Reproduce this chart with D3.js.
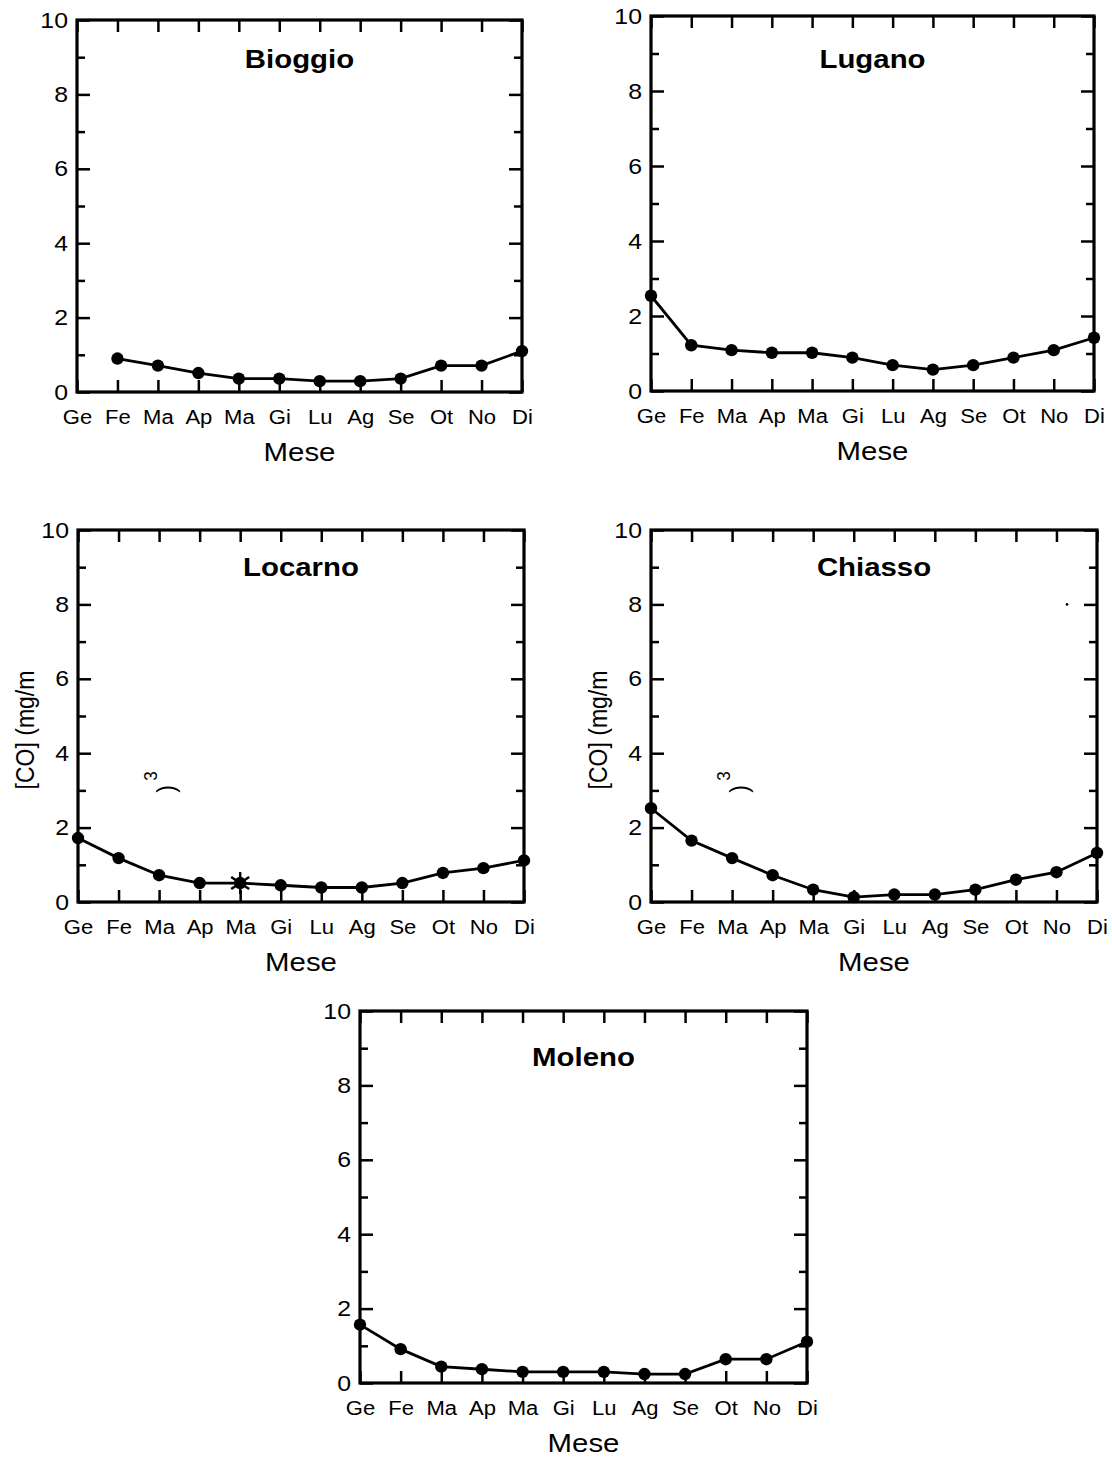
<!DOCTYPE html>
<html>
<head>
<meta charset="utf-8">
<script src="https://cdn.jsdelivr.net/npm/d3@7"></script>
<style>
  html, body { margin: 0; padding: 0; background: #fff; }
  svg { display: block; }
  text { font-family: "Liberation Sans", Arial, Helvetica, sans-serif; fill: #000; }
</style>
</head>
<body>
<svg id="chart" width="1112" height="1457"></svg>
<script>
// Monthly mean CO concentration (mg/m3) at five Ticino stations
const months = ["Ge", "Fe", "Ma", "Ap", "Ma", "Gi", "Lu", "Ag", "Se", "Ot", "No", "Di"];
const bioggio = [null, 0.90, 0.71, 0.51, 0.36, 0.36, 0.29, 0.29, 0.36, 0.71, 0.71, 1.10];
const lugano  = [2.54, 1.22, 1.09, 1.02, 1.02, 0.89, 0.69, 0.57, 0.69, 0.89, 1.09, 1.42];
const locarno = [1.72, 1.18, 0.72, 0.51, 0.51, 0.45, 0.39, 0.39, 0.51, 0.78, 0.91, 1.12];
const chiasso = [2.52, 1.65, 1.18, 0.72, 0.33, 0.13, 0.20, 0.20, 0.33, 0.60, 0.80, 1.32];
const moleno  = [1.57, 0.91, 0.44, 0.37, 0.30, 0.30, 0.30, 0.24, 0.24, 0.64, 0.64, 1.11];
const yMajorTicks = [0, 2, 4, 6, 8, 10];
const yMinorTicks = [1, 3, 5, 7, 9];
// Locarno: extra marker on the May value
const locarnoStarMonth = 4;

const STRETCH = 1.13; // glyphs are set slightly wide

const panels = [
  { name: "Bioggio", values: bioggio, x0: 77,  x1: 522,  y0: 20,   y1: 392, titleDy: 48, ylabel: false },
  { name: "Lugano",  values: lugano,  x0: 651, x1: 1094, y0: 16,   y1: 391, titleDy: 52, ylabel: false },
  { name: "Locarno", values: locarno, x0: 78,  x1: 524,  y0: 530,  y1: 902, titleDy: 46, ylabel: true, star: locarnoStarMonth },
  { name: "Chiasso", values: chiasso, x0: 651, x1: 1097, y0: 530,  y1: 902, titleDy: 46, ylabel: true, strayDot: true },
  { name: "Moleno",  values: moleno,  x0: 360, x1: 807,  y0: 1011, y1: 1383, titleDy: 55, ylabel: false }
];

const svg = d3.select("#chart");

panels.forEach(p => {
  const w = p.x1 - p.x0, h = p.y1 - p.y0;
  const g = svg.append("g").attr("transform", `translate(${p.x0},${p.y0})`);
  const x = d3.scaleLinear().domain([0, 11]).range([0, w]);
  const y = d3.scaleLinear().domain([0, 10]).range([h, 0]);

  // inward tick marks on all four sides
  const tickStyle = sel => {
    sel.select(".domain").remove();
    sel.selectAll("line").attr("stroke", "#000").attr("stroke-width", 2.5);
  };
  g.append("g").call(d3.axisLeft(y).tickValues(yMajorTicks).tickSize(-13).tickFormat("")).call(tickStyle);
  g.append("g").call(d3.axisLeft(y).tickValues(yMinorTicks).tickSize(-8).tickFormat("")).call(tickStyle);
  g.append("g").attr("transform", `translate(${w},0)`)
    .call(d3.axisRight(y).tickValues(yMajorTicks).tickSize(-13).tickFormat("")).call(tickStyle);
  g.append("g").attr("transform", `translate(${w},0)`)
    .call(d3.axisRight(y).tickValues(yMinorTicks).tickSize(-8).tickFormat("")).call(tickStyle);
  g.append("g").attr("transform", `translate(0,${h})`)
    .call(d3.axisBottom(x).tickValues(d3.range(12)).tickSize(-12).tickFormat("")).call(tickStyle);
  g.append("g")
    .call(d3.axisTop(x).tickValues(d3.range(12)).tickSize(-12).tickFormat("")).call(tickStyle);

  // tick labels
  const yLab = g.append("g")
    .call(d3.axisLeft(y).tickValues(yMajorTicks).tickSize(0).tickPadding(8).tickFormat(d3.format("d")));
  yLab.select(".domain").remove();
  yLab.selectAll("text")
    .attr("font-size", 22).attr("font-family", "Liberation Sans, Arial, sans-serif")
    .attr("transform", `scale(${STRETCH},1)`);

  const xLab = g.append("g").attr("transform", `translate(0,${h})`)
    .call(d3.axisBottom(x).tickValues(d3.range(12)).tickSize(0).tickPadding(18).tickFormat(i => months[i]));
  xLab.select(".domain").remove();
  xLab.selectAll("text")
    .attr("font-size", 19.5).attr("font-family", "Liberation Sans, Arial, sans-serif")
    .attr("transform", `scale(${STRETCH},1)`);

  // frame
  g.append("rect").attr("x", 0).attr("y", 0).attr("width", w).attr("height", h)
    .attr("fill", "none").attr("stroke", "#000").attr("stroke-width", 3.2);

  // title
  g.append("text")
    .attr("transform", `translate(${w / 2},${p.titleDy}) scale(${STRETCH},1)`)
    .attr("text-anchor", "middle").attr("font-size", 26).attr("font-weight", "bold")
    .text(p.name);

  // x-axis title
  g.append("text")
    .attr("transform", `translate(${w / 2},${h + 69}) scale(${STRETCH},1)`)
    .attr("text-anchor", "middle").attr("font-size", 26)
    .text("Mese");

  // y-axis title (superscript and closing bracket are set apart from the main label)
  if (p.ylabel) {
    g.append("text")
      .attr("transform", `translate(-44,${200}) rotate(-90) scale(1,${STRETCH})`)
      .attr("text-anchor", "middle").attr("font-size", 23)
      .text("[CO] (mg/m");
    g.append("text")
      .attr("transform", `translate(79,${246}) rotate(-90) scale(1,${STRETCH})`)
      .attr("text-anchor", "middle").attr("font-size", 17)
      .text("3");
    g.append("text")
      .attr("transform", `translate(97,${259}) rotate(-90) scale(1,${STRETCH})`)
      .attr("text-anchor", "middle").attr("font-size", 23)
      .text(")");
  }

  // series line and markers
  const pts = p.values.map((v, i) => ({ i, v })).filter(d => d.v !== null);
  const line = d3.line().x(d => x(d.i)).y(d => y(d.v));
  g.append("path").datum(pts).attr("d", line)
    .attr("fill", "none").attr("stroke", "#000").attr("stroke-width", 2.8);
  g.selectAll("circle.pt").data(pts).join("circle").attr("class", "pt")
    .attr("cx", d => x(d.i)).attr("cy", d => y(d.v)).attr("r", 6.2).attr("fill", "#000");

  if (p.star !== undefined) {
    const sx = x(p.star), sy = y(p.values[p.star]);
    const arms = [[0, 11], [9, 6], [-9, 6]];
    g.selectAll("line.star").data(arms).join("line").attr("class", "star")
      .attr("x1", d => sx - d[0]).attr("y1", d => sy - d[1])
      .attr("x2", d => sx + d[0]).attr("y2", d => sy + d[1])
      .attr("stroke", "#000").attr("stroke-width", 2.4);
  }

  if (p.strayDot) {
    g.append("circle").attr("cx", w - 30).attr("cy", y(8)).attr("r", 1.3).attr("fill", "#000");
  }
});
</script>
</body>
</html>
